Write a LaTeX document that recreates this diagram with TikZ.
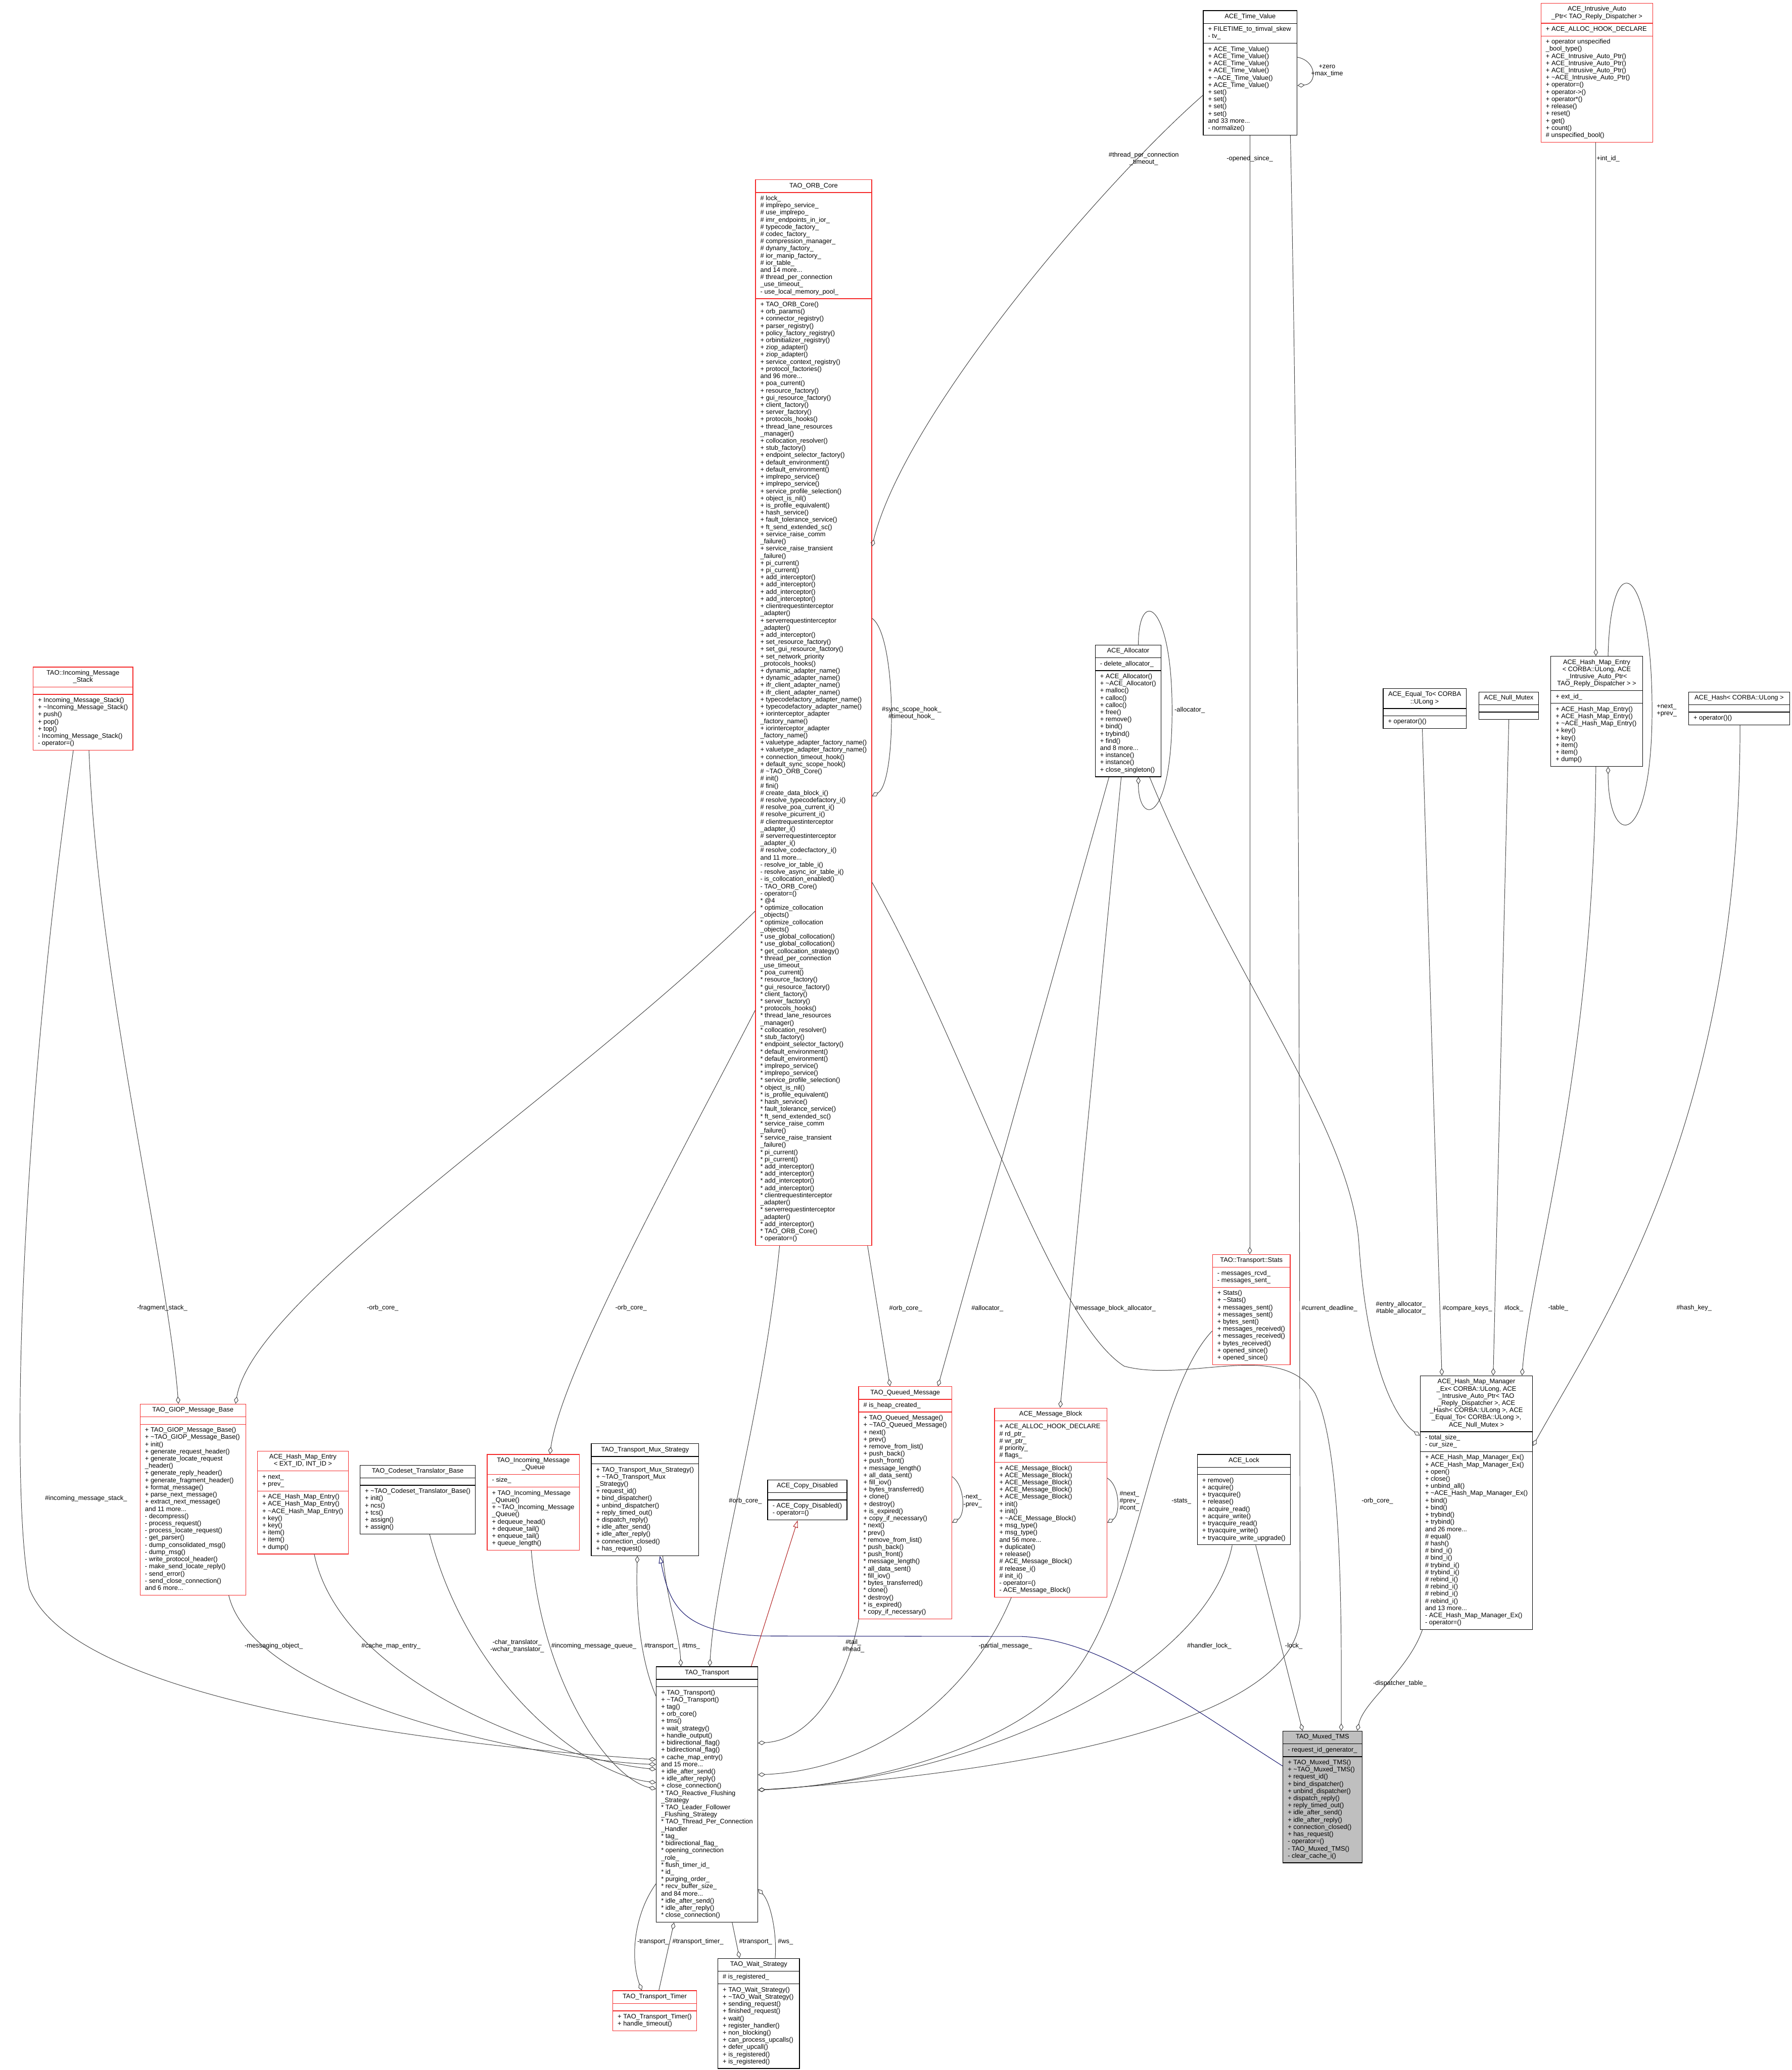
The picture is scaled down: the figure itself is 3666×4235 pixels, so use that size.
\documentclass[tikz,border=0pt]{standalone}
\usepackage{fontspec}
\setmainfont{Liberation Sans}
\usetikzlibrary{shapes.multipart,arrows.meta}
\definecolor{doxred}{HTML}{F52A2A}
\definecolor{edgegray}{HTML}{404040}
\definecolor{inhblue}{HTML}{191970}
\definecolor{inhred}{HTML}{B22222}
\definecolor{boxgray}{HTML}{BFBFBF}
\newcommand{\cltitle}[1]{\begin{tabular}{@{}c@{}}#1\end{tabular}}
\newcommand{\cllines}[1]{\begin{tabular}{@{}l@{}}#1\end{tabular}}

\begin{document}
\begin{tikzpicture}[x=1pt, y=-1pt, every node/.style={font=\fontsize{13.3}{14.7}\selectfont},
  cls/.style={rectangle split, rectangle split parts=3, rectangle split part align={center,left,left}, draw=black, line width=1.4pt, inner xsep=10pt, inner ysep=5pt, anchor=north west},
  rcls/.style={cls, draw=doxred},
  coll/.style={draw=edgegray, line width=1pt, -{Diamond[open, length=15pt, width=9pt]}},
  inh/.style={draw=inhblue, line width=1.1pt, -{Triangle[open, length=15pt, width=10pt]}},
  pinh/.style={draw=inhred, line width=1.1pt, -{Triangle[open, length=15pt, width=10pt]}},
  lbl/.style={align=center, inner sep=0pt}]
\useasboundingbox[fill=white] (0,0) rectangle (3666,4235);

% classes, top rows
\node[cls, minimum width=192pt] (tv) at (2461,21) {\cltitle{ACE\_Time\_Value}
 \nodepart{two}\cllines{+ FILETIME\_to\_timval\_skew\\- tv\_}
 \nodepart{three}\cllines{+ ACE\_Time\_Value()\\+ ACE\_Time\_Value()\\+ ACE\_Time\_Value()\\+ ACE\_Time\_Value()\\+ \textasciitilde ACE\_Time\_Value()\\+ ACE\_Time\_Value()\\+ set()\\+ set()\\+ set()\\+ set()\\and 33 more...\\- normalize()}};
\node[rcls, minimum width=229pt] (iap) at (3152,6) {\cltitle{ACE\_Intrusive\_Auto\\\_Ptr< TAO\_Reply\_Dispatcher >}
 \nodepart{two}\cllines{+ ACE\_ALLOC\_HOOK\_DECLARE}
 \nodepart{three}\cllines{+ operator unspecified\\\_bool\_type()\\+ ACE\_Intrusive\_Auto\_Ptr()\\+ ACE\_Intrusive\_Auto\_Ptr()\\+ ACE\_Intrusive\_Auto\_Ptr()\\+ \textasciitilde ACE\_Intrusive\_Auto\_Ptr()\\+ operator=()\\+ operator->()\\+ operator*()\\+ release()\\+ reset()\\+ get()\\+ count()\\\# unspecified\_bool()}};
\node[rcls, minimum width=235pt] (orb) at (1545,367) {\cltitle{TAO\_ORB\_Core}
 \nodepart{two}\cllines{\# lock\_\\\# implrepo\_service\_\\\# use\_implrepo\_\\\# imr\_endpoints\_in\_ior\_\\\# typecode\_factory\_\\\# codec\_factory\_\\\# compression\_manager\_\\\# dynany\_factory\_\\\# ior\_manip\_factory\_\\\# ior\_table\_\\and 14 more...\\\# thread\_per\_connection\\\_use\_timeout\_\\- use\_local\_memory\_pool\_}
 \nodepart{three}\cllines{+ TAO\_ORB\_Core()\\+ orb\_params()\\+ connector\_registry()\\+ parser\_registry()\\+ policy\_factory\_registry()\\+ orbinitializer\_registry()\\+ ziop\_adapter()\\+ ziop\_adapter()\\+ service\_context\_registry()\\+ protocol\_factories()\\and 96 more...\\+ poa\_current()\\+ resource\_factory()\\+ gui\_resource\_factory()\\+ client\_factory()\\+ server\_factory()\\+ protocols\_hooks()\\+ thread\_lane\_resources\\\_manager()\\+ collocation\_resolver()\\+ stub\_factory()\\+ endpoint\_selector\_factory()\\+ default\_environment()\\+ default\_environment()\\+ implrepo\_service()\\+ implrepo\_service()\\+ service\_profile\_selection()\\+ object\_is\_nil()\\+ is\_profile\_equivalent()\\+ hash\_service()\\+ fault\_tolerance\_service()\\+ ft\_send\_extended\_sc()\\+ service\_raise\_comm\\\_failure()\\+ service\_raise\_transient\\\_failure()\\+ pi\_current()\\+ pi\_current()\\+ add\_interceptor()\\+ add\_interceptor()\\+ add\_interceptor()\\+ add\_interceptor()\\+ clientrequestinterceptor\\\_adapter()\\+ serverrequestinterceptor\\\_adapter()\\+ add\_interceptor()\\+ set\_resource\_factory()\\+ set\_gui\_resource\_factory()\\+ set\_network\_priority\\\_protocols\_hooks()\\+ dynamic\_adapter\_name()\\+ dynamic\_adapter\_name()\\+ ifr\_client\_adapter\_name()\\+ ifr\_client\_adapter\_name()\\+ typecodefactory\_adapter\_name()\\+ typecodefactory\_adapter\_name()\\+ iorinterceptor\_adapter\\\_factory\_name()\\+ iorinterceptor\_adapter\\\_factory\_name()\\+ valuetype\_adapter\_factory\_name()\\+ valuetype\_adapter\_factory\_name()\\+ connection\_timeout\_hook()\\+ default\_sync\_scope\_hook()\\\# \textasciitilde TAO\_ORB\_Core()\\\# init()\\\# fini()\\\# create\_data\_block\_i()\\\# resolve\_typecodefactory\_i()\\\# resolve\_poa\_current\_i()\\\# resolve\_picurrent\_i()\\\# clientrequestinterceptor\\\_adapter\_i()\\\# serverrequestinterceptor\\\_adapter\_i()\\\# resolve\_codecfactory\_i()\\and 11 more...\\- resolve\_ior\_table\_i()\\- resolve\_async\_ior\_table\_i()\\- is\_collocation\_enabled()\\- TAO\_ORB\_Core()\\- operator=()\\{}* @4\\{}* optimize\_collocation\\\_objects()\\{}* optimize\_collocation\\\_objects()\\{}* use\_global\_collocation()\\{}* use\_global\_collocation()\\{}* get\_collocation\_strategy()\\{}* thread\_per\_connection\\\_use\_timeout\_\\{}* poa\_current()\\{}* resource\_factory()\\{}* gui\_resource\_factory()\\{}* client\_factory()\\{}* server\_factory()\\{}* protocols\_hooks()\\{}* thread\_lane\_resources\\\_manager()\\{}* collocation\_resolver()\\{}* stub\_factory()\\{}* endpoint\_selector\_factory()\\{}* default\_environment()\\{}* default\_environment()\\{}* implrepo\_service()\\{}* implrepo\_service()\\{}* service\_profile\_selection()\\{}* object\_is\_nil()\\{}* is\_profile\_equivalent()\\{}* hash\_service()\\{}* fault\_tolerance\_service()\\{}* ft\_send\_extended\_sc()\\{}* service\_raise\_comm\\\_failure()\\{}* service\_raise\_transient\\\_failure()\\{}* pi\_current()\\{}* pi\_current()\\{}* add\_interceptor()\\{}* add\_interceptor()\\{}* add\_interceptor()\\{}* add\_interceptor()\\{}* clientrequestinterceptor\\\_adapter()\\{}* serverrequestinterceptor\\\_adapter()\\{}* add\_interceptor()\\{}* TAO\_ORB\_Core()\\{}* operator=()}};
\node[rcls, minimum width=204pt] (ims) at (67,1364) {\cltitle{TAO::Incoming\_Message\\\_Stack}
 \nodepart{two}\cllines{}
 \nodepart{three}\cllines{+ Incoming\_Message\_Stack()\\+ \textasciitilde Incoming\_Message\_Stack()\\+ push()\\+ pop()\\+ top()\\- Incoming\_Message\_Stack()\\- operator=()}};
\node[cls, minimum width=135pt] (alloc) at (2240,1319) {\cltitle{ACE\_Allocator}
 \nodepart{two}\cllines{- delete\_allocator\_}
 \nodepart{three}\cllines{+ ACE\_Allocator()\\+ \textasciitilde ACE\_Allocator()\\+ malloc()\\+ calloc()\\+ calloc()\\+ free()\\+ remove()\\+ bind()\\+ trybind()\\+ find()\\and 8 more...\\+ instance()\\+ instance()\\+ close\_singleton()}};
\node[cls, minimum width=170pt] (eqto) at (2829,1408) {\cltitle{ACE\_Equal\_To< CORBA\\::ULong >}
 \nodepart{two}\cllines{}
 \nodepart{three}\cllines{+ operator()()}};
\node[cls, minimum width=122pt] (nmutex) at (3025,1415) {\cltitle{ACE\_Null\_Mutex}
 \nodepart{two}\cllines{}
 \nodepart{three}\cllines{}};
\node[cls, minimum width=188pt] (hme) at (3172,1342) {\cltitle{ACE\_Hash\_Map\_Entry\\< CORBA::ULong, ACE\\\_Intrusive\_Auto\_Ptr<\\ TAO\_Reply\_Dispatcher > >}
 \nodepart{two}\cllines{+ ext\_id\_}
 \nodepart{three}\cllines{+ ACE\_Hash\_Map\_Entry()\\+ ACE\_Hash\_Map\_Entry()\\+ \textasciitilde ACE\_Hash\_Map\_Entry()\\+ key()\\+ key()\\+ item()\\+ item()\\+ dump()}};
\node[cls, minimum width=207pt] (hash) at (3454,1415) {\cltitle{ACE\_Hash< CORBA::ULong >}
 \nodepart{two}\cllines{}
 \nodepart{three}\cllines{+ operator()()}};

% classes, middle rows
\node[rcls, minimum width=216pt] (giop) at (286,2872) {\cltitle{TAO\_GIOP\_Message\_Base}
 \nodepart{two}\cllines{}
 \nodepart{three}\cllines{+ TAO\_GIOP\_Message\_Base()\\+ \textasciitilde TAO\_GIOP\_Message\_Base()\\+ init()\\+ generate\_request\_header()\\+ generate\_locate\_request\\\_header()\\+ generate\_reply\_header()\\+ generate\_fragment\_header()\\+ format\_message()\\+ parse\_next\_message()\\+ extract\_next\_message()\\and 11 more...\\- decompress()\\- process\_request()\\- process\_locate\_request()\\- get\_parser()\\- dump\_consolidated\_msg()\\- dump\_msg()\\- write\_protocol\_header()\\- make\_send\_locate\_reply()\\- send\_error()\\- send\_close\_connection()\\and 6 more...}};
\node[rcls, minimum width=186pt] (hmeg) at (526,2968) {\cltitle{ACE\_Hash\_Map\_Entry\\< EXT\_ID, INT\_ID >}
 \nodepart{two}\cllines{+ next\_\\+ prev\_}
 \nodepart{three}\cllines{+ ACE\_Hash\_Map\_Entry()\\+ ACE\_Hash\_Map\_Entry()\\+ \textasciitilde ACE\_Hash\_Map\_Entry()\\+ key()\\+ key()\\+ item()\\+ item()\\+ dump()}};
\node[cls, minimum width=235pt] (codeset) at (736,2997) {\cltitle{TAO\_Codeset\_Translator\_Base}
 \nodepart{two}\cllines{}
 \nodepart{three}\cllines{+ \textasciitilde TAO\_Codeset\_Translator\_Base()\\+ init()\\+ ncs()\\+ tcs()\\+ assign()\\+ assign()}};
\node[rcls, minimum width=189pt] (imq) at (996,2975) {\cltitle{TAO\_Incoming\_Message\\\_Queue}
 \nodepart{two}\cllines{- size\_}
 \nodepart{three}\cllines{+ TAO\_Incoming\_Message\\\_Queue()\\+ \textasciitilde TAO\_Incoming\_Message\\\_Queue()\\+ dequeue\_head()\\+ dequeue\_tail()\\+ enqueue\_tail()\\+ queue\_length()}};
\node[cls, minimum width=219pt] (tms) at (1209,2953) {\cltitle{TAO\_Transport\_Mux\_Strategy}
 \nodepart{two}\cllines{}
 \nodepart{three}\cllines{+ TAO\_Transport\_Mux\_Strategy()\\+ \textasciitilde TAO\_Transport\_Mux\\\_Strategy()\\+ request\_id()\\+ bind\_dispatcher()\\+ unbind\_dispatcher()\\+ reply\_timed\_out()\\+ dispatch\_reply()\\+ idle\_after\_send()\\+ idle\_after\_reply()\\+ connection\_closed()\\+ has\_request()}};
\node[cls, minimum width=162pt] (copyd) at (1570,3027) {\cltitle{ACE\_Copy\_Disabled}
 \nodepart{two}\cllines{}
 \nodepart{three}\cllines{- ACE\_Copy\_Disabled()\\- operator=()}};
\node[rcls, minimum width=190pt] (qmsg) at (1756,2836) {\cltitle{TAO\_Queued\_Message}
 \nodepart{two}\cllines{\# is\_heap\_created\_}
 \nodepart{three}\cllines{+ TAO\_Queued\_Message()\\+ \textasciitilde TAO\_Queued\_Message()\\+ next()\\+ prev()\\+ remove\_from\_list()\\+ push\_back()\\+ push\_front()\\+ message\_length()\\+ all\_data\_sent()\\+ fill\_iov()\\+ bytes\_transferred()\\+ clone()\\+ destroy()\\+ is\_expired()\\+ copy\_if\_necessary()\\{}* next()\\{}* prev()\\{}* remove\_from\_list()\\{}* push\_back()\\{}* push\_front()\\{}* message\_length()\\{}* all\_data\_sent()\\{}* fill\_iov()\\{}* bytes\_transferred()\\{}* clone()\\{}* destroy()\\{}* is\_expired()\\{}* copy\_if\_necessary()}};
\node[rcls, minimum width=230pt] (mblock) at (2034,2880) {\cltitle{ACE\_Message\_Block}
 \nodepart{two}\cllines{+ ACE\_ALLOC\_HOOK\_DECLARE\\\# rd\_ptr\_\\\# wr\_ptr\_\\\# priority\_\\\# flags\_}
 \nodepart{three}\cllines{+ ACE\_Message\_Block()\\+ ACE\_Message\_Block()\\+ ACE\_Message\_Block()\\+ ACE\_Message\_Block()\\+ ACE\_Message\_Block()\\+ init()\\+ init()\\+ \textasciitilde ACE\_Message\_Block()\\+ msg\_type()\\+ msg\_type()\\and 56 more...\\+ duplicate()\\+ release()\\\# ACE\_Message\_Block()\\\# release\_i()\\\# init\_i()\\- operator=()\\- ACE\_Message\_Block()}};
\node[rcls, minimum width=159pt] (stats) at (2480,2566) {\cltitle{TAO::Transport::Stats}
 \nodepart{two}\cllines{- messages\_rcvd\_\\- messages\_sent\_}
 \nodepart{three}\cllines{+ Stats()\\+ \textasciitilde Stats()\\+ messages\_sent()\\+ messages\_sent()\\+ bytes\_sent()\\+ messages\_received()\\+ messages\_received()\\+ bytes\_received()\\+ opened\_since()\\+ opened\_since()}};
\node[cls, minimum width=187pt] (lock) at (2449,2975) {\cltitle{ACE\_Lock}
 \nodepart{two}\cllines{}
 \nodepart{three}\cllines{+ remove()\\+ acquire()\\+ tryacquire()\\+ release()\\+ acquire\_read()\\+ acquire\_write()\\+ tryacquire\_read()\\+ tryacquire\_write()\\+ tryacquire\_write\_upgrade()}};
\node[cls, minimum width=228pt] (hmm) at (2905,2814) {\cltitle{ACE\_Hash\_Map\_Manager\\\_Ex< CORBA::ULong, ACE\\\_Intrusive\_Auto\_Ptr< TAO\\\_Reply\_Dispatcher >, ACE\\\_Hash< CORBA::ULong >, ACE\\\_Equal\_To< CORBA::ULong >,\\ ACE\_Null\_Mutex >}
 \nodepart{two}\cllines{- total\_size\_\\- cur\_size\_}
 \nodepart{three}\cllines{+ ACE\_Hash\_Map\_Manager\_Ex()\\+ ACE\_Hash\_Map\_Manager\_Ex()\\+ open()\\+ close()\\+ unbind\_all()\\+ \textasciitilde ACE\_Hash\_Map\_Manager\_Ex()\\+ bind()\\+ bind()\\+ trybind()\\+ trybind()\\and 26 more...\\\# equal()\\\# hash()\\\# bind\_i()\\\# bind\_i()\\\# trybind\_i()\\\# trybind\_i()\\\# rebind\_i()\\\# rebind\_i()\\\# rebind\_i()\\\# rebind\_i()\\and 13 more...\\- ACE\_Hash\_Map\_Manager\_Ex()\\- operator=()}};

% classes, bottom rows
\node[cls, minimum width=206pt] (trans) at (1342,3409) {\cltitle{TAO\_Transport}
 \nodepart{two}\cllines{}
 \nodepart{three}\cllines{+ TAO\_Transport()\\+ \textasciitilde TAO\_Transport()\\+ tag()\\+ orb\_core()\\+ tms()\\+ wait\_strategy()\\+ handle\_output()\\+ bidirectional\_flag()\\+ bidirectional\_flag()\\+ cache\_map\_entry()\\and 15 more...\\+ idle\_after\_send()\\+ idle\_after\_reply()\\+ close\_connection()\\{}* TAO\_Reactive\_Flushing\\\_Strategy\\{}* TAO\_Leader\_Follower\\\_Flushing\_Strategy\\{}* TAO\_Thread\_Per\_Connection\\\_Handler\\{}* tag\_\\{}* bidirectional\_flag\_\\{}* opening\_connection\\\_role\_\\{}* flush\_timer\_id\_\\{}* id\_\\{}* purging\_order\_\\{}* recv\_buffer\_size\_\\and 84 more...\\{}* idle\_after\_send()\\{}* idle\_after\_reply()\\{}* close\_connection()}};
\node[cls, fill=boxgray, minimum width=159pt] (muxed) at (2624,3541) {\cltitle{TAO\_Muxed\_TMS}
 \nodepart{two}\cllines{- request\_id\_generator\_}
 \nodepart{three}\cllines{+ TAO\_Muxed\_TMS()\\+ \textasciitilde TAO\_Muxed\_TMS()\\+ request\_id()\\+ bind\_dispatcher()\\+ unbind\_dispatcher()\\+ dispatch\_reply()\\+ reply\_timed\_out()\\+ idle\_after\_send()\\+ idle\_after\_reply()\\+ connection\_closed()\\+ has\_request()\\- operator=()\\- TAO\_Muxed\_TMS()\\- clear\_cache\_i()}};
\node[rcls, minimum width=171pt] (timer) at (1253,4072) {\cltitle{TAO\_Transport\_Timer}
 \nodepart{two}\cllines{}
 \nodepart{three}\cllines{+ TAO\_Transport\_Timer()\\+ handle\_timeout()}};
\node[cls, minimum width=167pt] (wait) at (1468,4006) {\cltitle{TAO\_Wait\_Strategy}
 \nodepart{two}\cllines{\# is\_registered\_}
 \nodepart{three}\cllines{+ TAO\_Wait\_Strategy()\\+ \textasciitilde TAO\_Wait\_Strategy()\\+ sending\_request()\\+ finished\_request()\\+ wait()\\+ register\_handler()\\+ non\_blocking()\\+ can\_process\_upcalls()\\+ defer\_upcall()\\+ is\_registered()\\+ is\_registered()}};

% collaboration edges
\draw[coll] (tv.east |- 0,117) .. controls (2695,125) and (2695,172) .. (tv.east |- 0,175);
\draw[coll] (tv.west |- 0,195) .. controls (2250,380) and (1850,850) .. (orb.east |- 0,1118);
\draw[coll] (2557,0 |- tv.south) -- (2557,0 |- stats.north);
\draw[coll] (2640,0 |- tv.south) .. controls (2660,1200) and (2658,2400) .. (2660,3300) .. controls (2662,3560) and (1900,3640) .. (trans.east |- 0,3662);
\draw[coll] (orb.east |- 0,1265) .. controls (1835,1300) and (1835,1600) .. (orb.east |- 0,1629);
\draw[coll] (orb.west |- 0,1864) .. controls (1150,2250) and (520,2650) .. (482,0 |- giop.north);
\draw[coll] (182,0 |- ims.south) .. controls (200,2000) and (345,2600) .. (365,0 |- giop.north);
\draw[coll] (150,0 |- ims.south) .. controls (40,2300) and (20,3050) .. (60,3250) .. controls (150,3480) and (900,3570) .. (trans.west |- 0,3600);
\draw[coll] (orb.west |- 0,2067) .. controls (1400,2350) and (1150,2800) .. (1125,0 |- imq.north);
\draw[coll] (1595,0 |- orb.south) .. controls (1560,2900) and (1465,3200) .. (1452,0 |- trans.north);
\draw[coll] (1775,0 |- orb.south) -- (1821,0 |- qmsg.north);
\draw[coll] (2269,0 |- alloc.south) -- (1919,0 |- qmsg.north);
\draw[coll] (2294,0 |- alloc.south) -- (2169,0 |- mblock.north);
\draw[coll] (2329,0 |- alloc.north) .. controls (2329,1200) and (2398,1230) .. (2398,1453) .. controls (2398,1690) and (2329,1690) .. (2329,0 |- alloc.south);
\draw[coll] (2352,0 |- alloc.south) .. controls (2520,2000) and (2760,2300) .. (2780,2540) .. controls (2795,2780) and (2850,2900) .. (hmm.west |- 0,2937);
\draw[coll] (2910,0 |- eqto.south) -- (2950,0 |- hmm.north);
\draw[coll] (3087,0 |- nmutex.south) -- (3055,0 |- hmm.north);
\draw[coll] (3265,0 |- hme.south) .. controls (3260,2200) and (3130,2600) .. (3114,0 |- hmm.north);
\draw[coll] (3560,0 |- hash.south) .. controls (3560,2300) and (3280,2700) .. (hmm.east |- 0,2958);
\draw[coll] (3265,0 |- iap.south) -- (3265,0 |- hme.north);
\draw[coll] (3290,0 |- hme.north) .. controls (3295,1110) and (3380,1150) .. (3380,1453) .. controls (3380,1740) and (3290,1740) .. (3290,0 |- hme.south);
\draw[coll] (2910,0 |- hmm.south) .. controls (2880,3420) and (2790,3480) .. (2777,0 |- muxed.north);
\draw[coll] (2569,0 |- lock.south) -- (2665,0 |- muxed.north);
\draw[coll] (orb.east |- 0,1805) .. controls (1980,2150) and (2150,2700) .. (2300,2795) .. controls (2430,2830) and (2620,2740) .. (2690,2850) .. controls (2745,2960) and (2745,3300) .. (2744,0 |- muxed.north);
\draw[coll] (stats.west |- 0,2723) .. controls (2360,2850) and (2330,3250) .. (2200,3420) .. controls (2080,3580) and (1750,3655) .. (trans.east |- 0,3662);
\draw[coll] (2521,0 |- lock.south) .. controls (2470,3420) and (2000,3640) .. (trans.east |- 0,3662);
\draw[coll] (2069,0 |- mblock.south) .. controls (1990,3460) and (1800,3620) .. (trans.east |- 0,3631);
\draw[coll] (1757,0 |- qmsg.south) .. controls (1730,3450) and (1660,3560) .. (trans.east |- 0,3566);
\draw[coll] (qmsg.east |- 0,3021) .. controls (1975,3040) and (1975,3100) .. (qmsg.east |- 0,3115);
\draw[coll] (mblock.east |- 0,3024) .. controls (2292,3040) and (2292,3100) .. (mblock.east |- 0,3115);
\draw[coll] (879,0 |- codeset.south) .. controls (960,3450) and (1200,3630) .. (trans.west |- 0,3647);
\draw[coll] (643,0 |- hmeg.south) .. controls (700,3450) and (1150,3600) .. (trans.west |- 0,3620);
\draw[coll] (468,0 |- giop.south) .. controls (520,3480) and (1100,3600) .. (trans.west |- 0,3610);
\draw[coll] (1087,0 |- imq.south) .. controls (1110,3450) and (1250,3640) .. (trans.west |- 0,3660);
\draw[coll] (trans.west |- 0,3470) .. controls (1312,3400) and (1300,3300) .. (1304,0 |- tms.south);
\draw[coll] (1356,0 |- tms.south) .. controls (1365,3280) and (1390,3340) .. (1393,0 |- trans.north);
\draw[coll] (trans.west |- 0,3854) .. controls (1295,3920) and (1290,4010) .. (1313,0 |- timer.north);
\draw[coll] (1348,0 |- timer.north) -- (1379,0 |- trans.south);
\draw[coll] (1498,0 |- trans.south) -- (1513,0 |- wait.north);
\draw[coll] (1586,0 |- wait.north) .. controls (1590,3950) and (1575,3890) .. (trans.east |- 0,3865);

% inheritance
\draw[inh] (muxed.west |- 0,3613) .. controls (2400,3470) and (2250,3355) .. (2090,3348) -- (1560,3347) .. controls (1400,3340) and (1370,3290) .. (1350,0 |- tms.south);
\draw[pinh] (1537,0 |- trans.north) -- (1632,0 |- copyd.south);

% edge labels
\node[lbl] (lzero) at (2715,145) {+zero\\+max\_time};
\node[lbl] (ltpc) at (2340,325) {\#thread\_per\_connection\\\_timeout\_};
\node[lbl] (lopen) at (2557,325) {-opened\_since\_};
\node[lbl] (lintid) at (3290,325) {+int\_id\_};
\node[lbl] (lsync) at (1865,1459) {\#sync\_scope\_hook\_\\\#timeout\_hook\_};
\node[lbl] (lalloc) at (2434,1453) {-allocator\_};
\node[lbl, align=left] (lnext) at (3410,1453) {+next\_\\+prev\_};
\node[lbl] (lfrag) at (332,2676) {-fragment\_stack\_};
\node[lbl] (lorba) at (783,2676) {-orb\_core\_};
\node[lbl] (lorbb) at (1291,2676) {-orb\_core\_};
\node[lbl] (lorbc) at (1853,2677) {\#orb\_core\_};
\node[lbl] (lallq) at (2020,2677) {\#allocator\_};
\node[lbl] (lmba) at (2282,2677) {\#message\_block\_allocator\_};
\node[lbl] (ldead) at (2720,2677) {\#current\_deadline\_};
\node[lbl] (lentry) at (2866,2676) {\#entry\_allocator\_\\\#table\_allocator\_};
\node[lbl] (lcmp) at (3002,2677) {\#compare\_keys\_};
\node[lbl] (llock) at (3097,2677) {\#lock\_};
\node[lbl] (ltable) at (3188,2676) {-table\_};
\node[lbl] (lhash) at (3466,2676) {\#hash\_key\_};
\node[lbl] (lstack) at (176,3066) {\#incoming\_message\_stack\_};
\node[lbl] (lorbd) at (1525,3071) {\#orb\_core\_};
\node[lbl] (lstats) at (2417,3071) {-stats\_};
\node[lbl] (lorbe) at (2818,3071) {-orb\_core\_};
\node[lbl, align=left] (lqnext) at (1990,3071) {-next\_\\-prev\_};
\node[lbl, align=left] (lmnext) at (2311,3071) {\#next\_\\\#prev\_\\\#cont\_};
\node[lbl] (lmsg) at (560,3368) {-messaging\_object\_};
\node[lbl] (lcache) at (800,3368) {\#cache\_map\_entry\_};
\node[lbl] (lchar) at (1058,3368) {-char\_translator\_\\-wchar\_translator\_};
\node[lbl] (limq) at (1215,3368) {\#incoming\_message\_queue\_};
\node[lbl] (ltrans) at (1352,3368) {\#transport\_};
\node[lbl] (ltms) at (1414,3368) {\#tms\_};
\node[lbl] (ltail) at (1746,3368) {\#tail\_\\\#head\_};
\node[lbl] (lpart) at (2057,3368) {-partial\_message\_};
\node[lbl] (lhlock) at (2474,3368) {\#handler\_lock\_};
\node[lbl] (llck) at (2647,3368) {-lock\_};
\node[lbl] (ldisp) at (2864,3444) {-dispatcher\_table\_};
\node[lbl] (ltrb) at (1336,3973) {-transport\_};
\node[lbl] (ltimer) at (1428,3973) {\#transport\_timer\_};
\node[lbl] (ltrw) at (1546,3973) {\#transport\_};
\node[lbl] (lws) at (1607,3973) {\#ws\_};
\end{tikzpicture}
\end{document}
